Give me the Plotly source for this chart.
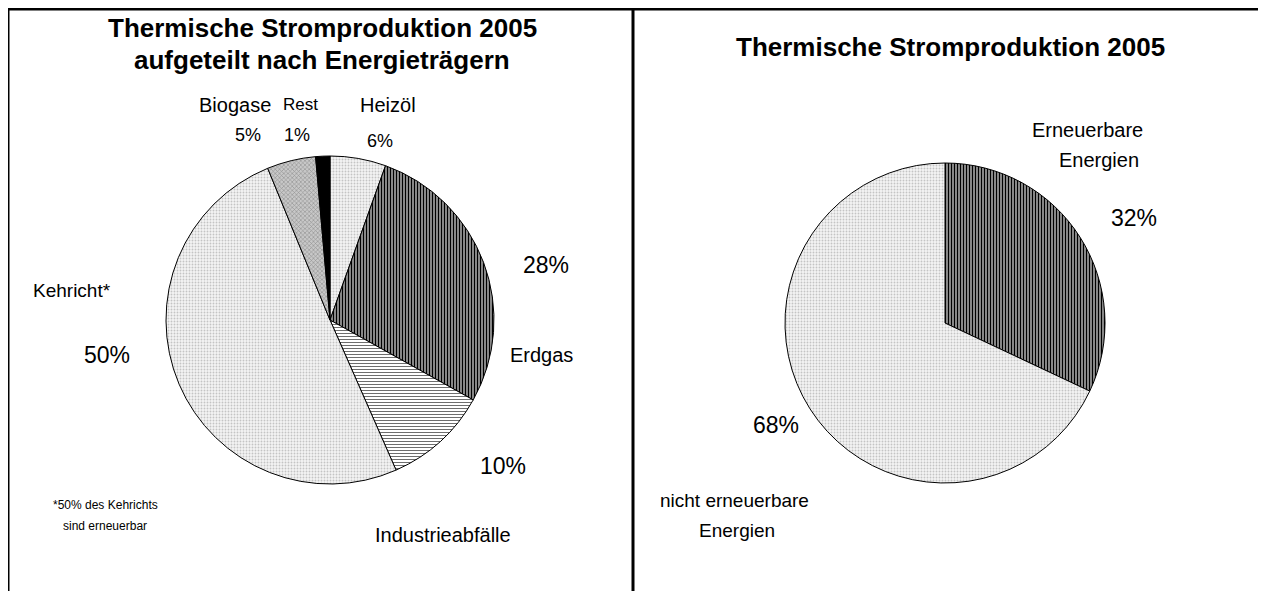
import plotly.graph_objects as go

# ---- data ----
left_labels = ["Heizöl", "Erdgas", "Industrieabfälle", "Kehricht*", "Biogase", "Rest"]
left_values = [5.5, 27.6, 10.3, 50.4, 4.8, 1.4]
left_pct = ["6%", "28%", "10%", "50%", "5%", "1%"]

right_labels = ["Erneuerbare Energien", "nicht erneuerbare Energien"]
right_values = [32, 68]
right_pct = ["32%", "68%"]

W, H = 1266, 591
OFF = 8  # browser body margin
FONT = "Liberation Sans"

def fx(x):
    return (x - OFF) / W

def fy(y):
    return 1 - (y - OFF) / H

LIGHT_BG, LIGHT_FG = "#f4f4f4", "#c4c4c4"
DARK_BG, DARK_FG = "#969696", "#000000"

fig = go.Figure()
fig.add_trace(go.Pie(
    labels=left_labels, values=left_values, sort=False, direction="clockwise",
    rotation=0, textinfo="none", showlegend=False,
    marker=dict(colors=[LIGHT_BG, DARK_BG, "#ffffff", LIGHT_BG, "#c4c4c4", "#000000"],
                line=dict(color="black", width=1),
                pattern=dict(
                    shape=[".", "|", "-", ".", "x", ""],
                    fgcolor=[LIGHT_FG, DARK_FG, "#6e6e6e", LIGHT_FG, "#8c8c8c", "#000000"],
                    bgcolor=[LIGHT_BG, DARK_BG, "#ffffff", LIGHT_BG, "#c8c8c8", "#000000"],
                    size=[3, 3, 3, 3, 3, 3],
                    solidity=[0.3, 0.4, 0.35, 0.3, 0.35, 0.3],
                    fillmode="replace")),
    domain=dict(x=[fx(166), fx(494)], y=[fy(484), fy(156)]),
))
fig.add_trace(go.Pie(
    labels=right_labels, values=right_values, sort=False, direction="clockwise",
    rotation=0, textinfo="none", showlegend=False,
    marker=dict(colors=[DARK_BG, LIGHT_BG],
                line=dict(color="black", width=1),
                pattern=dict(
                    shape=["|", "."],
                    fgcolor=[DARK_FG, LIGHT_FG],
                    bgcolor=[DARK_BG, LIGHT_BG],
                    size=[3, 3], solidity=[0.4, 0.3], fillmode="replace")),
    domain=dict(x=[fx(785), fx(1105)], y=[fy(483), fy(163)]),
))

ann = []
def txt(x, y, t, size=19, bold=False):
    ann.append(dict(x=fx(x), y=fy(y), xref="paper", yref="paper", text=(f"<b>{t}</b>" if bold else t),
                    showarrow=False, xanchor="center", yanchor="middle",
                    font=dict(family=FONT, size=size, color="black")))

# titles
txt(322, 28, "Thermische Stromproduktion 2005", 26, True)
txt(322, 60, "aufgeteilt nach Energieträgern", 26, True)
txt(950, 47, "Thermische Stromproduktion 2005", 26, True)

# left labels
txt(388, 105, left_labels[0], 20)
txt(380, 141, left_pct[0], 18)
txt(546, 265, left_pct[1], 23)
txt(541, 355, left_labels[1], 20)
txt(503, 466, left_pct[2], 23)
txt(443, 535, left_labels[2], 20)
txt(72, 290, left_labels[3], 19)
txt(107, 355, left_pct[3], 23)
txt(235, 105, left_labels[4], 20)
txt(248, 135, left_pct[4], 18)
txt(300, 104, left_labels[5], 17)
txt(297, 135, left_pct[5], 18)
txt(105, 505, "*50% des Kehrichts", 12)
txt(105, 526, "sind erneuerbar", 12)

# right labels
r0 = right_labels[0].split(" ")
r1 = right_labels[1].rsplit(" ", 1)
txt(1087, 130, r0[0], 20)
txt(1099, 160, r0[1], 20)
txt(1134, 218, right_pct[0], 23)
txt(776, 425, right_pct[1], 23)
txt(734, 500, r1[0], 19)
txt(737, 530, r1[1], 19)

shapes = []
def line(x0, y0, x1, y1):
    shapes.append(dict(type="line", xref="paper", yref="paper", x0=fx(x0), y0=fy(y0),
                       x1=fx(x1), y1=fy(y1), line=dict(color="black", width=3)))
line(8, 9, 1262, 9)
line(8, 9, 8, 600)
line(633, 9, 633, 600)
line(1262, 9, 1262, 600)

fig.update_layout(width=W, height=H, margin=dict(l=0, r=0, t=0, b=0),
                  paper_bgcolor="white", plot_bgcolor="white",
                  annotations=ann, shapes=shapes, font=dict(family=FONT))
fig.write_html("out.html")
